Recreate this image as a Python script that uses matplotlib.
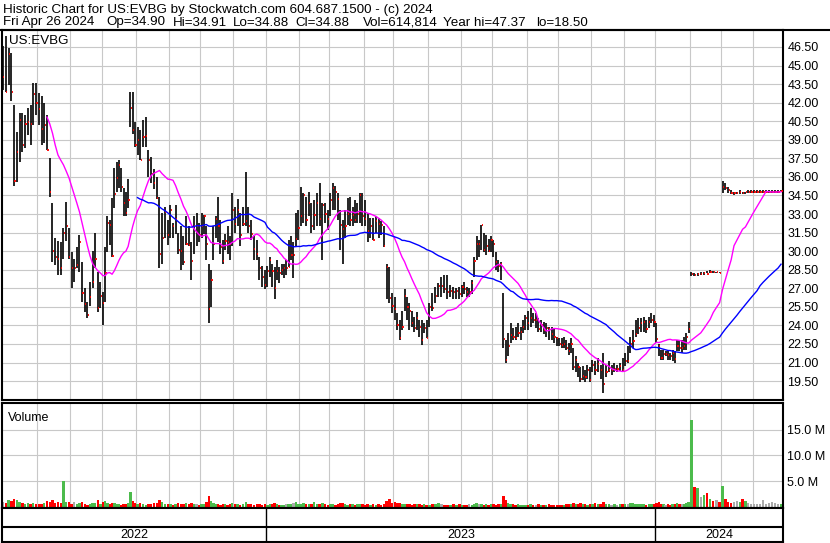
import numpy as np
import pandas as pd
import matplotlib
matplotlib.use("Agg")
import matplotlib.pyplot as plt
from matplotlib.lines import Line2D

plt.rcParams['font.family'] = ['Liberation Sans', 'DejaVu Sans']

# (high, low, close), roughly one bar every other session
ohlc = {
    "2022-04": [(46.6, 43.0, 44.1)],
    "2022-05": [(47.37, 42.9, 42.9), (46.4, 43.4, 45.9), (46.0, 42.1, 42.9), (41.8, 35.3, 35.7), (39.6, 35.6, 38.0),
                (41.2, 37.2, 40.6), (41.2, 38.0, 38.6), (41.0, 38.3, 40.3), (41.6, 39.4, 40.4), (41.8, 38.6, 40.3),
                (43.6, 40.2, 42.7), (43.6, 41.0, 42.0)],
    "2022-06": [(42.8, 40.2, 41.5), (42.5, 38.6, 39.9), (42.0, 38.7, 40.2), (41.0, 38.2, 38.2), (37.5, 34.4, 34.8),
                (33.9, 29.1, 30.0), (31.1, 28.9, 29.5), (30.8, 28.1, 29.4), (30.7, 28.1, 28.6), (31.9, 29.4, 31.5),
                (34.0, 30.8, 32.0), (31.9, 29.4, 29.5)],
    "2022-07": [(29.9, 27.0, 28.6), (29.4, 27.5, 28.6), (30.3, 28.6, 28.9), (31.3, 28.3, 30.7), (29.1, 25.9, 26.6),
                (27.0, 25.1, 25.7), (25.9, 24.6, 24.8), (27.5, 25.6, 26.3), (30.0, 27.0, 27.5), (31.5, 28.6, 29.4),
                (28.3, 25.1, 25.4), (27.5, 25.4, 26.4)],
    "2022-08": [(26.7, 24.0, 25.8), (30.3, 25.9, 28.2), (32.8, 29.9, 32.3), (32.5, 30.5, 32.1), (34.3, 29.5, 29.6),
                (36.7, 33.5, 34.6), (37.2, 34.8, 35.9), (37.4, 35.1, 37.0), (36.7, 34.8, 35.2), (35.1, 32.8, 33.9),
                (34.8, 32.8, 33.1), (35.8, 33.5, 34.1), (42.9, 40.0, 41.6), (42.9, 39.5, 39.8), (40.4, 38.4, 38.6)],
    "2022-09": [(40.0, 37.8, 39.0), (39.8, 37.4, 37.4), (40.6, 38.4, 39.2), (40.8, 38.4, 39.3), (38.2, 36.0, 37.4),
                (37.6, 35.5, 36.2), (36.6, 35.0, 35.5), (36.0, 34.2, 34.3), (34.4, 28.6, 29.8), (33.1, 29.0, 31.1),
                (33.6, 31.1, 33.2), (32.5, 30.5, 31.3)],
    "2022-10": [(33.7, 31.1, 33.3), (32.3, 31.1, 32.0), (33.7, 31.4, 32.6), (31.5, 29.8, 30.1), (32.0, 28.5, 30.0),
                (31.2, 28.9, 29.1), (32.8, 30.5, 30.6), (32.0, 30.4, 30.5), (30.7, 27.7, 29.2), (32.8, 29.8, 32.0),
                (33.1, 30.4, 32.0), (32.3, 30.7, 31.3)],
    "2022-11": [(33.1, 31.1, 32.0), (32.9, 31.4, 32.8), (32.0, 29.3, 30.6), (29.0, 24.2, 25.3), (28.5, 25.5, 27.7),
                (32.0, 29.3, 30.6), (32.8, 31.1, 32.6), (34.4, 30.7, 32.0), (32.5, 29.8, 30.3), (30.9, 29.0, 29.2),
                (31.4, 30.1, 30.8), (32.0, 29.8, 30.7), (31.2, 29.3, 30.6), (34.7, 30.4, 33.3)],
    "2022-12": [(33.6, 31.5, 32.2), (34.2, 32.0, 33.3), (33.1, 30.4, 31.3), (33.6, 32.0, 32.2), (36.4, 32.0, 32.4),
                (33.6, 31.5, 32.0), (32.5, 30.9, 31.4), (31.2, 29.3, 30.2), (30.9, 29.3, 29.8), (29.5, 27.7, 28.6),
                (28.8, 27.1, 27.9), (28.5, 26.9, 27.3)],
    "2023-01": [(28.8, 27.1, 28.4), (29.5, 27.9, 29.3), (29.0, 27.1, 28.4), (28.7, 26.1, 27.0), (29.3, 27.7, 28.4),
                (28.7, 27.4, 28.2), (29.0, 28.1, 28.5), (29.0, 27.8, 28.6), (29.3, 28.1, 28.6), (30.9, 28.7, 28.7),
                (31.2, 29.3, 29.7), (30.7, 27.8, 29.7), (33.1, 30.4, 31.0), (33.3, 30.9, 31.9)],
    "2023-02": [(35.2, 32.0, 32.8), (34.7, 32.3, 34.5), (34.4, 32.0, 32.5), (34.8, 32.8, 33.9), (33.9, 31.5, 32.0),
                (34.1, 31.7, 32.9), (34.7, 32.0, 33.9), (35.5, 32.0, 32.6), (33.9, 29.3, 33.7), (33.9, 32.3, 33.0),
                (33.3, 31.7, 32.6)],
    "2023-03": [(34.7, 32.8, 34.1), (35.5, 33.3, 35.1), (35.3, 33.3, 34.8), (34.7, 32.5, 34.2), (33.3, 30.1, 32.1),
                (32.5, 29.0, 31.8), (33.3, 31.1, 32.0), (34.3, 32.1, 33.0), (34.4, 32.0, 32.5), (33.6, 32.0, 32.9),
                (34.1, 32.3, 32.5), (33.9, 32.3, 33.0), (34.7, 32.3, 34.5), (34.7, 32.0, 32.8)],
    "2023-04": [(34.1, 32.0, 32.6), (33.1, 30.7, 31.6), (32.7, 31.1, 32.0), (32.7, 30.9, 30.9), (32.8, 31.5, 32.4),
                (32.7, 31.1, 32.2), (32.4, 31.3, 32.1), (32.0, 30.3, 30.4), (29.0, 26.1, 28.7), (28.7, 25.8, 26.2),
                (26.6, 25.0, 25.6)],
    "2023-05": [(26.3, 24.4, 25.3), (25.0, 23.6, 24.0), (24.4, 22.8, 23.0), (25.2, 23.6, 23.9), (26.9, 25.2, 26.4),
                (26.3, 24.4, 25.5), (25.8, 23.6, 25.2), (25.2, 23.9, 24.2), (24.7, 23.5, 23.8), (25.1, 23.6, 24.6),
                (24.4, 23.1, 23.9), (24.4, 22.4, 22.8), (24.2, 23.4, 23.8), (24.4, 23.0, 23.0)],
    "2023-06": [(25.8, 23.9, 25.5), (26.6, 25.2, 25.4), (27.1, 25.8, 26.4), (27.4, 26.3, 27.2), (27.9, 26.3, 27.2),
                (28.1, 26.6, 26.9), (28.1, 26.1, 26.7), (27.3, 26.3, 26.8), (27.1, 26.1, 26.7), (27.0, 26.1, 26.8),
                (27.1, 26.1, 26.5)],
    "2023-07": [(27.3, 26.3, 27.1), (27.5, 26.5, 26.9), (27.1, 26.3, 26.7), (27.0, 26.3, 26.7), (27.7, 26.5, 27.4),
                (29.5, 27.9, 29.2), (31.2, 29.3, 30.6), (30.9, 29.5, 30.6), (32.1, 30.1, 32.1), (31.5, 29.9, 30.1),
                (31.3, 29.7, 30.4), (31.0, 29.9, 30.0), (31.2, 29.9, 30.9)],
    "2023-08": [(30.9, 29.5, 30.6), (29.9, 28.5, 29.1), (29.3, 28.3, 28.8), (29.1, 27.7, 29.0), (26.6, 22.2, 22.9),
                (22.8, 21.0, 21.2), (23.4, 21.5, 22.3), (24.2, 22.6, 23.2), (23.8, 22.8, 23.1), (23.9, 22.8, 23.0),
                (24.2, 23.1, 23.4), (23.9, 22.8, 23.5), (24.4, 23.4, 23.9), (24.8, 23.6, 24.6)],
    "2023-09": [(25.2, 23.6, 24.2), (25.4, 23.9, 24.6), (25.0, 24.2, 24.4), (25.0, 23.8, 24.4), (24.6, 23.5, 23.7),
                (24.4, 23.5, 24.0), (24.3, 23.3, 23.6), (24.2, 23.1, 23.8), (23.9, 22.8, 23.7), (23.9, 22.8, 23.3),
                (23.8, 22.6, 23.1), (23.1, 22.3, 23.0)],
    "2023-10": [(23.0, 22.3, 22.5), (23.0, 22.2, 22.4), (23.1, 22.2, 22.5), (22.8, 22.0, 22.2), (22.6, 21.6, 21.9),
                (23.0, 21.8, 22.5), (22.2, 20.4, 20.6), (21.5, 20.2, 21.2), (21.0, 19.8, 20.6), (20.6, 19.4, 19.7),
                (20.7, 19.6, 19.9), (20.4, 19.4, 19.8), (20.8, 19.7, 20.4), (20.6, 19.4, 19.6)],
    "2023-11": [(21.2, 20.2, 20.8), (21.1, 20.0, 20.4), (21.4, 20.2, 20.9), (20.8, 19.7, 20.4), (21.8, 18.5, 19.3),
                (20.8, 19.8, 20.2), (21.1, 20.2, 20.4), (20.8, 20.0, 20.4), (21.0, 20.2, 20.5), (20.8, 20.2, 20.5),
                (21.0, 20.3, 20.7), (21.4, 20.3, 20.4)],
    "2023-12": [(21.8, 20.7, 21.1), (22.3, 21.0, 21.1), (23.1, 21.8, 22.5), (23.6, 22.2, 22.7), (24.4, 23.1, 23.3),
                (24.6, 23.3, 23.8), (24.6, 23.5, 24.2), (24.7, 23.5, 24.3), (24.4, 23.4, 23.7), (24.7, 23.8, 24.3),
                (25.0, 24.2, 24.4), (24.8, 23.9, 24.3)],
    "2024-01": [(24.2, 22.6, 22.9), (22.5, 21.5, 22.3), (22.0, 21.2, 21.4), (22.0, 21.2, 21.7), (21.9, 21.5, 21.7),
                (21.9, 21.2, 21.6), (21.8, 21.2, 21.5), (22.0, 21.1, 21.8), (21.9, 21.0, 21.3), (22.8, 21.9, 22.3),
                (22.8, 21.9, 22.2), (22.8, 21.8, 22.2), (23.1, 22.0, 22.3), (23.4, 22.0, 23.1), (24.3, 23.4, 23.7)],
    "2024-02": [(28.3, 28.0, 28.15), (28.2, 28.0, 28.05), (28.2, 28.0, 28.12), (28.3, 28.1, 28.12), (28.3, 28.1, 28.2),
                (28.4, 28.2, 28.18), (28.5, 28.2, 28.35), (28.4, 28.2, 28.3), (28.3, 28.2, 28.3), (28.3, 28.2, 28.25)],
    "2024-03": [(35.7, 34.7, 35.2), (35.5, 34.9, 35.1), (35.2, 34.7, 34.9), (34.9, 34.6, 34.7), (34.8, 34.5, 34.7),
                (34.8, 34.6, 34.7), (34.9, 34.6, 34.8), (34.8, 34.6, 34.7), (34.8, 34.6, 34.8), (34.9, 34.7, 34.8),
                (34.9, 34.7, 34.8)],
    "2024-04": [(34.9, 34.7, 34.8), (34.9, 34.7, 34.8), (34.9, 34.7, 34.8), (34.9, 34.7, 34.8), (34.9, 34.7, 34.8),
                (34.9, 34.7, 34.8), (34.9, 34.7, 34.8), (34.9, 34.7, 34.8), (34.9, 34.7, 34.8), (34.91, 34.88, 34.88)],
}

# volume in millions, same bars as above
volume = {
    "2022-04": [1.0],
    "2022-05": [0.8, 1.3, 1.2, 1.6, 1.4, 0.9, 0.7, 0.6, 0.8, 0.5, 0.7, 0.6],
    "2022-06": [0.5, 0.6, 0.7, 1.2, 1.0, 1.3, 0.8, 0.9, 0.7, 5.1, 0.9, 1.0],
    "2022-07": [0.6, 0.9, 0.5, 0.7, 1.0, 0.6, 0.4, 0.6, 0.8, 0.7, 1.4, 0.6],
    "2022-08": [0.9, 1.1, 0.8, 0.6, 0.7, 0.8, 0.5, 0.6, 0.4, 0.5, 0.6, 0.7, 2.8, 1.2, 0.8],
    "2022-09": [0.6, 0.7, 0.5, 0.4, 0.6, 0.5, 0.7, 0.8, 1.3, 0.9, 0.6, 0.5],
    "2022-10": [0.5, 0.4, 0.6, 0.7, 0.5, 0.6, 0.8, 0.5, 0.7, 0.6, 0.5, 0.4],
    "2022-11": [0.5, 0.6, 0.9, 2.0, 1.2, 0.7, 0.6, 0.5, 0.4, 0.5, 0.6, 0.4, 0.5, 0.7],
    "2022-12": [0.5, 0.6, 0.4, 0.5, 0.9, 0.6, 0.5, 0.4, 0.6, 0.5, 0.4, 0.5],
    "2023-01": [0.4, 0.5, 0.6, 0.7, 0.5, 0.4, 0.3, 0.4, 0.5, 0.6, 0.5, 0.7, 0.9, 0.6],
    "2023-02": [0.6, 0.7, 0.5, 0.6, 0.5, 1.0, 0.6, 0.5, 0.8, 0.5, 0.4],
    "2023-03": [0.5, 0.6, 0.4, 0.5, 0.7, 0.8, 0.5, 0.4, 0.5, 0.6, 0.4, 0.5, 0.6, 0.5],
    "2023-04": [0.4, 0.5, 0.4, 0.6, 0.4, 0.5, 0.4, 0.5, 1.1, 1.6, 0.8],
    "2023-05": [0.9, 0.7, 0.8, 0.6, 0.5, 0.6, 0.5, 0.4, 0.5, 0.6, 0.5, 0.4, 0.5, 0.4],
    "2023-06": [0.4, 0.5, 0.6, 0.7, 0.5, 0.4, 0.3, 0.4, 0.5, 0.4, 0.6],
    "2023-07": [0.4, 0.3, 0.4, 0.5, 0.4, 0.6, 0.8, 0.5, 0.6, 0.4, 0.5, 0.4, 0.5],
    "2023-08": [0.5, 0.4, 0.6, 0.5, 2.1, 1.4, 0.8, 0.6, 0.5, 0.4, 0.5, 0.4, 0.3, 0.4],
    "2023-09": [0.4, 0.5, 0.3, 0.4, 0.5, 0.4, 0.3, 0.4, 0.5, 0.4, 0.3, 0.4],
    "2023-10": [0.4, 0.3, 0.4, 0.5, 0.6, 0.5, 0.7, 0.6, 0.5, 0.7, 0.6, 0.5, 0.4, 0.6],
    "2023-11": [0.5, 0.7, 0.6, 0.5, 1.0, 0.6, 0.5, 0.4, 0.5, 0.4, 0.5, 0.6],
    "2023-12": [0.5, 0.6, 0.7, 0.8, 0.6, 0.5, 0.6, 0.5, 0.4, 0.5, 0.6, 0.5],
    "2024-01": [0.8, 0.9, 0.6, 0.5, 0.4, 0.5, 0.4, 0.6, 0.5, 0.7, 0.6, 0.5, 0.6, 0.8, 0.9],
    "2024-02": [16.9, 3.8, 3.6, 1.9, 2.3, 2.6, 1.5, 1.2, 1.3, 0.9],
    "2024-03": [4.0, 1.5, 1.0, 0.8, 0.9, 1.2, 0.9, 1.6, 1.1, 0.8, 0.6],
    "2024-04": [0.5, 0.6, 0.5, 1.3, 0.6, 0.8, 1.0, 0.7, 0.6, 0.6],
}

header1 = "Historic Chart for US:EVBG by Stockwatch.com 604.687.1500 - (c) 2024"
header2 = ["Fri Apr 26 2024", "Op=34.90", "Hi=34.91", "Lo=34.88", "Cl=34.88",
           "Vol=614,814", "Year hi=47.37", "lo=18.50"]
header2_x = [3, 106, 173, 233, 295, 363, 443, 536]
symbol = "US:EVBG"
price_ticks = np.arange(19.5, 46.51, 1.5)
vol_ticks = [5, 10, 15]
years = ["2022", "2023", "2024"]

# trading-day axis
days = pd.bdate_range("2022-04-28", "2024-04-26")
months = np.array(days.strftime("%Y-%m"))

xs, hi, lo, cl, vol = [], [], [], [], []
for key, bars in ohlc.items():
    idx = np.flatnonzero(months == key)
    k = len(bars)
    pos = idx[0] - 0.5 + (np.arange(k) + 0.5) * len(idx) / k
    xs.extend(pos)
    for b in bars:
        hi.append(b[0])
        lo.append(b[1])
        cl.append(b[2])
    vol.extend(volume[key])
xs = np.array(xs)
hi = np.array(hi)
lo = np.array(lo)
cl = np.array(cl)
vol = np.array(vol)


def moving_avg(x, y, n):
    out = np.full(len(y), np.nan)
    for i in range(len(y)):
        if x[i] - n < -0.5:
            continue
        m = (x > x[i] - n) & (x <= x[i])
        out[i] = y[m].mean()
    return out


ma30 = moving_avg(xs, cl, 30)
ma90 = moving_avg(xs, cl, 90)

month_starts = [np.flatnonzero(months == m)[0] - 0.5 for m in sorted(set(months))[2:]]
year_starts = [np.flatnonzero(days.year == int(y))[0] - 0.5 for y in years]
year_edges = [-0.5] + year_starts[1:] + [len(days) - 0.5]

W, H = 830, 543


def box(x0, y0, x1, y1):
    return [x0 / W, 1 - y1 / H, (x1 - x0) / W, (y1 - y0) / H]


fig = plt.figure(figsize=(W / 100, H / 100), dpi=100)
ax = fig.add_axes(box(1.5, 30, 782.5, 400))
axv = fig.add_axes(box(1.5, 403, 782.5, 508))
axy = fig.add_axes(box(1.5, 508, 782.5, 541.5))

grid_c = "#c8c8c8"
for a in (ax, axv, axy):
    a.set_xlim(-0.5, len(days) - 0.5)
    for s in a.spines.values():
        s.set_color("black")
        s.set_linewidth(1.5)

# price panel
ax.set_ylim(17.97, 47.87)
ax.set_xticks(month_starts)
ax.set_yticks(price_ticks)
ax.set_yticklabels(["%.2f" % v for v in price_ticks])
ax.yaxis.tick_right()
ax.tick_params(axis="y", length=0, pad=3.5, labelsize=9)
ax.tick_params(axis="x", length=0, labelbottom=False)
ax.grid(True, color=grid_c, lw=0.8)
ax.set_axisbelow(True)

ax.vlines(xs, lo, hi, color="black", lw=1.2, zorder=2)
ax.hlines(cl, xs + 0.2, xs + 1.0, color="#ff0000", lw=1.3, zorder=3)
ax.plot(xs, ma30, color="#ff00ff", lw=1.0, zorder=4)
ax.plot(xs, ma90, color="#0000ff", lw=1.0, zorder=4)
ax.text(0.01, 0.97, symbol, transform=ax.transAxes, fontsize=9.6, va="center", ha="left", zorder=5)

# volume panel
prev = np.concatenate([[cl[0]], cl[:-1]])
colors = np.where(cl > prev, "#4cbb4c", np.where(cl < prev, "#ff0000", "#aaaaaa"))
axv.set_ylim(-0.25, 20.2)
axv.bar(xs, vol, width=1.6, color=colors, zorder=2)
axv.set_xticks(month_starts)
axv.set_yticks(vol_ticks)
axv.set_yticklabels(["%.1f M" % v for v in vol_ticks])
axv.yaxis.tick_right()
axv.tick_params(axis="y", length=0, pad=3.5, labelsize=9)
axv.tick_params(axis="x", length=0, labelbottom=False)
axv.grid(True, color=grid_c, lw=0.8)
axv.set_axisbelow(True)
axv.text(0.008, 0.86, "Volume", transform=axv.transAxes, fontsize=9, va="center", ha="left")

# year band
axy.set_ylim(0, 1)
axy.set_xticks([])
axy.set_yticks([])
axy.axhline(0.435, color="black", lw=1.5)
axy.vlines(year_starts[1:], 0, 1, color="black", lw=1.0)
for i, y in enumerate(years):
    axy.text((year_edges[i] + year_edges[i + 1]) / 2, 0.2, y, fontsize=9, ha="center", va="center")

# header
fig.text(3 / W, 1 - 9.5 / H, header1, fontsize=9.6, va="center", ha="left")
for txt, x in zip(header2, header2_x):
    fig.text(x / W, 1 - 22.5 / H, txt, fontsize=9.6, va="center", ha="left")
fig.add_artist(Line2D([0, 1], [1 - 29.5 / H] * 2, color="black", lw=1.5, transform=fig.transFigure))

fig.savefig("out.png", dpi=100)
